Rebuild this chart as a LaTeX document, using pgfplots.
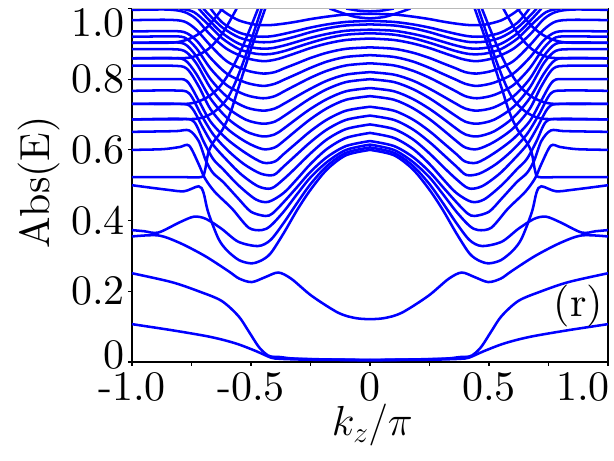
\RequirePackage{fix-cm}
\documentclass[border=0pt]{standalone}
\usepackage{fontspec}
\setmainfont{lmroman10-regular}[Extension=.otf]
\usepackage{pgfplots}
\pgfplotsset{compat=1.18}
\newcommand{\bigf}{\fontsize{31.5}{36}\selectfont}
\pgfplotsset{band/.style={color=blue, line width=1.9pt, smooth, no markers}}
% each band is given for k_z/pi in [0,1]; the spectrum is symmetric, so it is drawn mirrored too
\newcommand{\band}[1]{%
  \addplot[band] table[row sep=\\] {#1};%
  \addplot[band] table[row sep=\\, x expr=-\thisrowno{0}] {#1};%
}
\begin{document}
\begin{tikzpicture}
\begin{axis}[
  width=357pt, height=265.1pt, scale only axis,
  xmin=-1, xmax=1, ymin=0, ymax=1,
  xtick={-1,-0.5,0,0.5,1}, xticklabels={-1.0,-0.5,0,0.5,{}},
  minor xtick={-0.75,-0.25,0.25,0.75},
  ytick={0,0.2,0.4,0.6,0.8,1}, yticklabels={\raisebox{11pt}{0},0.2,0.4,0.6,0.8,{}},
  tick align=outside, tick pos=left,
  major tick length=3pt, minor tick length=3pt,
  every tick/.style={black, line width=0.9pt},
  axis line style={line width=0.9pt},
  tick label style={font=\bigf, inner sep=0pt},
  xticklabel style={anchor=north, yshift=-4.5pt},
  yticklabel style={anchor=east, xshift=-2.2pt},
]
% lowest states
\band{0 0.005\\ 0.2 0.006\\ 0.3 0.007\\ 0.38 0.009\\ 0.415 0.012\\ 0.48 0.031\\ 0.553 0.05\\ 0.62 0.063\\ 0.694 0.074\\ 0.834 0.09\\ 1 0.107\\}
\band{0 0.006\\ 0.2 0.007\\ 0.35 0.01\\ 0.415 0.015\\ 0.44 0.024\\ 0.47 0.045\\ 0.511 0.088\\ 0.553 0.13\\ 0.624 0.173\\ 0.72 0.2\\ 0.834 0.226\\ 1 0.251\\}
\band{0 0.005\\ 0.3 0.009\\ 0.38 0.014\\ 0.42 0.014\\}
\band{0 0.121\\ 0.06 0.124\\ 0.133 0.139\\ 0.245 0.187\\ 0.33 0.235\\ 0.385 0.253\\ 0.44 0.24\\ 0.497 0.226\\ 0.55 0.236\\ 0.595 0.257\\ 0.694 0.3\\ 0.8 0.337\\ 0.89 0.358\\ 1 0.355\\}
% dome / U family
\band{0 0.6\\ 0.1 0.585\\ 0.18 0.545\\ 0.25 0.487\\ 0.306 0.43\\ 0.363 0.364\\ 0.418 0.307\\ 0.46 0.286\\ 0.5 0.279\\ 0.55 0.288\\ 0.6 0.315\\ 0.637 0.349\\ 0.68 0.424\\ 0.7 0.48\\ 0.72 0.497\\ 0.78 0.483\\ 0.85 0.487\\ 1 0.5\\}
\band{0 0.607\\ 0.1 0.592\\ 0.18 0.555\\ 0.25 0.503\\ 0.306 0.45\\ 0.363 0.393\\ 0.418 0.345\\ 0.47 0.328\\ 0.553 0.34\\ 0.624 0.377\\ 0.69 0.405\\ 0.74 0.411\\ 0.8 0.395\\ 0.89 0.366\\ 0.95 0.37\\ 1 0.373\\}
\band{0 0.615\\ 0.1 0.6\\ 0.18 0.566\\ 0.25 0.522\\ 0.306 0.475\\ 0.363 0.425\\ 0.418 0.385\\ 0.455 0.373\\ 0.51 0.38\\ 0.58 0.434\\ 0.652 0.481\\ 0.694 0.52\\ 0.72 0.56\\ 0.76 0.612\\ 0.8 0.608\\ 0.87 0.602\\ 1 0.6\\}
\band{0 0.625\\ 0.1 0.611\\ 0.18 0.58\\ 0.25 0.538\\ 0.306 0.495\\ 0.363 0.452\\ 0.41 0.42\\ 0.44 0.413\\ 0.5 0.425\\ 0.553 0.462\\ 0.617 0.509\\ 0.66 0.535\\ 0.69 0.57\\ 0.72 0.625\\ 0.76 0.655\\ 0.82 0.653\\ 1 0.651\\}
\band{0 0.648\\ 0.1 0.634\\ 0.18 0.603\\ 0.25 0.56\\ 0.306 0.518\\ 0.363 0.478\\ 0.427 0.453\\ 0.48 0.46\\ 0.553 0.5\\ 0.617 0.545\\ 0.66 0.575\\ 0.7 0.625\\ 0.74 0.68\\ 0.8 0.688\\ 1 0.686\\}
\band{0 0.672\\ 0.1 0.659\\ 0.18 0.63\\ 0.25 0.59\\ 0.306 0.553\\ 0.363 0.517\\ 0.415 0.491\\ 0.47 0.497\\ 0.54 0.53\\ 0.6 0.57\\ 0.66 0.615\\ 0.7 0.66\\ 0.75 0.72\\ 0.8 0.73\\ 1 0.73\\}
\band{0 0.697\\ 0.1 0.685\\ 0.18 0.658\\ 0.25 0.622\\ 0.306 0.588\\ 0.363 0.553\\ 0.405 0.529\\ 0.46 0.533\\ 0.53 0.56\\ 0.6 0.6\\ 0.66 0.645\\ 0.71 0.7\\ 0.76 0.76\\ 0.82 0.768\\ 1 0.767\\}
\band{0 0.722\\ 0.1 0.711\\ 0.18 0.686\\ 0.25 0.653\\ 0.306 0.621\\ 0.363 0.588\\ 0.4 0.567\\ 0.45 0.564\\ 0.52 0.59\\ 0.6 0.63\\ 0.67 0.68\\ 0.72 0.74\\ 0.77 0.795\\ 0.83 0.8\\ 1 0.8\\}
\band{0 0.752\\ 0.1 0.742\\ 0.18 0.718\\ 0.25 0.687\\ 0.306 0.657\\ 0.363 0.625\\ 0.4 0.607\\ 0.45 0.602\\ 0.52 0.622\\ 0.6 0.66\\ 0.67 0.715\\ 0.72 0.78\\ 0.77 0.83\\ 0.83 0.838\\ 1 0.838\\}
\band{0 0.775\\ 0.1 0.766\\ 0.18 0.744\\ 0.25 0.716\\ 0.306 0.689\\ 0.363 0.66\\ 0.4 0.644\\ 0.45 0.638\\ 0.52 0.652\\ 0.6 0.69\\ 0.67 0.745\\ 0.73 0.815\\ 0.78 0.855\\ 0.85 0.86\\ 1 0.859\\}
\band{0 0.8\\ 0.1 0.792\\ 0.18 0.772\\ 0.25 0.746\\ 0.306 0.721\\ 0.363 0.695\\ 0.4 0.68\\ 0.45 0.674\\ 0.52 0.685\\ 0.6 0.72\\ 0.67 0.775\\ 0.73 0.845\\ 0.78 0.88\\ 0.85 0.885\\ 1 0.885\\}
\band{0 0.82\\ 0.1 0.813\\ 0.18 0.796\\ 0.25 0.773\\ 0.306 0.752\\ 0.363 0.73\\ 0.4 0.717\\ 0.45 0.711\\ 0.52 0.72\\ 0.6 0.75\\ 0.67 0.8\\ 0.73 0.865\\ 0.78 0.9\\ 0.85 0.904\\ 1 0.903\\}
\band{0 0.845\\ 0.1 0.839\\ 0.18 0.824\\ 0.25 0.804\\ 0.306 0.785\\ 0.363 0.765\\ 0.4 0.752\\ 0.45 0.746\\ 0.52 0.755\\ 0.6 0.782\\ 0.67 0.83\\ 0.73 0.888\\ 0.78 0.918\\ 0.85 0.921\\ 1 0.92\\}
\band{0 0.868\\ 0.1 0.863\\ 0.18 0.85\\ 0.25 0.832\\ 0.306 0.815\\ 0.363 0.798\\ 0.4 0.787\\ 0.45 0.781\\ 0.52 0.79\\ 0.6 0.815\\ 0.67 0.86\\ 0.73 0.91\\ 0.78 0.933\\ 0.85 0.936\\ 1 0.935\\}
\band{0 0.89\\ 0.1 0.886\\ 0.18 0.875\\ 0.25 0.86\\ 0.306 0.845\\ 0.363 0.83\\ 0.4 0.82\\ 0.45 0.816\\ 0.52 0.825\\ 0.6 0.85\\ 0.67 0.895\\ 0.73 0.94\\ 0.78 0.963\\ 0.85 0.968\\ 1 0.967\\}
\band{0 0.915\\ 0.1 0.911\\ 0.18 0.901\\ 0.25 0.888\\ 0.306 0.875\\ 0.363 0.862\\ 0.4 0.855\\ 0.45 0.851\\ 0.52 0.86\\ 0.6 0.885\\ 0.67 0.925\\ 0.73 0.97\\ 0.78 0.99\\ 0.85 0.997\\ 1 0.996\\}
\band{0 0.93\\ 0.1 0.926\\ 0.18 0.916\\ 0.25 0.903\\ 0.306 0.891\\ 0.363 0.879\\ 0.42 0.871\\ 0.48 0.872\\ 0.55 0.885\\ 0.62 0.915\\ 0.68 0.955\\ 0.74 0.99\\ 0.8 1.0\\}
\band{0 0.94\\ 0.1 0.937\\ 0.18 0.928\\ 0.25 0.917\\ 0.306 0.906\\ 0.363 0.895\\ 0.42 0.887\\ 0.48 0.888\\ 0.55 0.9\\ 0.62 0.93\\ 0.68 0.97\\ 0.72 1.0\\}
\band{0 0.955\\ 0.1 0.952\\ 0.18 0.944\\ 0.25 0.933\\ 0.306 0.922\\ 0.363 0.912\\ 0.42 0.905\\ 0.48 0.906\\ 0.55 0.918\\ 0.62 0.946\\ 0.68 0.985\\ 0.7 1.0\\}
\band{0 0.965\\ 0.1 0.962\\ 0.18 0.955\\ 0.25 0.946\\ 0.306 0.937\\ 0.363 0.928\\ 0.42 0.921\\ 0.48 0.921\\ 0.55 0.932\\ 0.62 0.96\\ 0.67 1.0\\}
\band{0 0.985\\ 0.1 0.983\\ 0.18 0.977\\ 0.25 0.97\\ 0.306 0.963\\ 0.363 0.957\\ 0.42 0.953\\ 0.48 0.954\\ 0.55 0.966\\ 0.6 0.985\\ 0.63 1.0\\}
\band{0 0.972\\ 0.06 0.976\\ 0.12 0.988\\ 0.17 1.0\\}
\band{0 0.992\\ 0.05 0.994\\ 0.1 1.0\\}
% steep branches and the crossings near |k_z| = 0.6-0.8
\band{0.44 1.0\\ 0.5 0.885\\ 0.553 0.775\\ 0.585 0.708\\ 0.62 0.657\\ 0.66 0.62\\ 0.68 0.59\\ 0.694 0.54\\ 0.71 0.523\\ 0.8 0.523\\ 1 0.523\\}
\band{0.455 1.0\\ 0.51 0.89\\ 0.56 0.8\\ 0.6 0.745\\ 0.65 0.71\\ 0.7 0.692\\ 0.76 0.687\\ 1 0.686\\}
\band{0.47 1.0\\ 0.53 0.9\\ 0.58 0.83\\ 0.63 0.78\\ 0.68 0.75\\ 0.74 0.733\\ 0.8 0.73\\ 1 0.73\\}
\band{0.56 1.0\\ 0.62 0.93\\ 0.68 0.885\\ 0.75 0.862\\ 0.85 0.859\\ 1 0.859\\}
\band{0.62 1.0\\ 0.68 0.95\\ 0.74 0.92\\ 0.82 0.904\\ 1 0.903\\}
\coordinate (tl) at (rel axis cs:0,1);
\coordinate (tr) at (rel axis cs:1,1);
\coordinate (br) at (rel axis cs:1,0);
\coordinate (ylab) at (rel axis cs:0,0.508);
\coordinate (xlab) at (rel axis cs:0.505,0);
\coordinate (rlab) at (rel axis cs:0.99,0.1296);
\coordinate (bbl) at (rel axis cs:-0.2773,-0.2801);
\coordinate (btr) at (rel axis cs:1.0126,1.024);
\end{axis}
\draw[gray!55, line width=0.9pt] (tl) -- (tr);
\node[anchor=north east, inner sep=0pt, font=\bigf] at ([xshift=-5.2pt]tl) {1.0};
\node[anchor=north east, inner sep=0pt, font=\bigf] at ([xshift=1.5pt, yshift=-7.5pt]br) {1.0};
\node[rotate=90, anchor=base, inner sep=0pt, font=\bigf] at ([xshift=-61.5pt]ylab) {Abs(E)};
\node[anchor=base, inner sep=0pt, font=\bigf] at ([yshift=-55.5pt]xlab) {$k_z/\pi$};
\node[anchor=base east, inner sep=0pt, font=\bigf] at (rlab) {(r)};
\pgfresetboundingbox
\path[use as bounding box] (bbl) rectangle (btr);
\end{tikzpicture}
\end{document}
